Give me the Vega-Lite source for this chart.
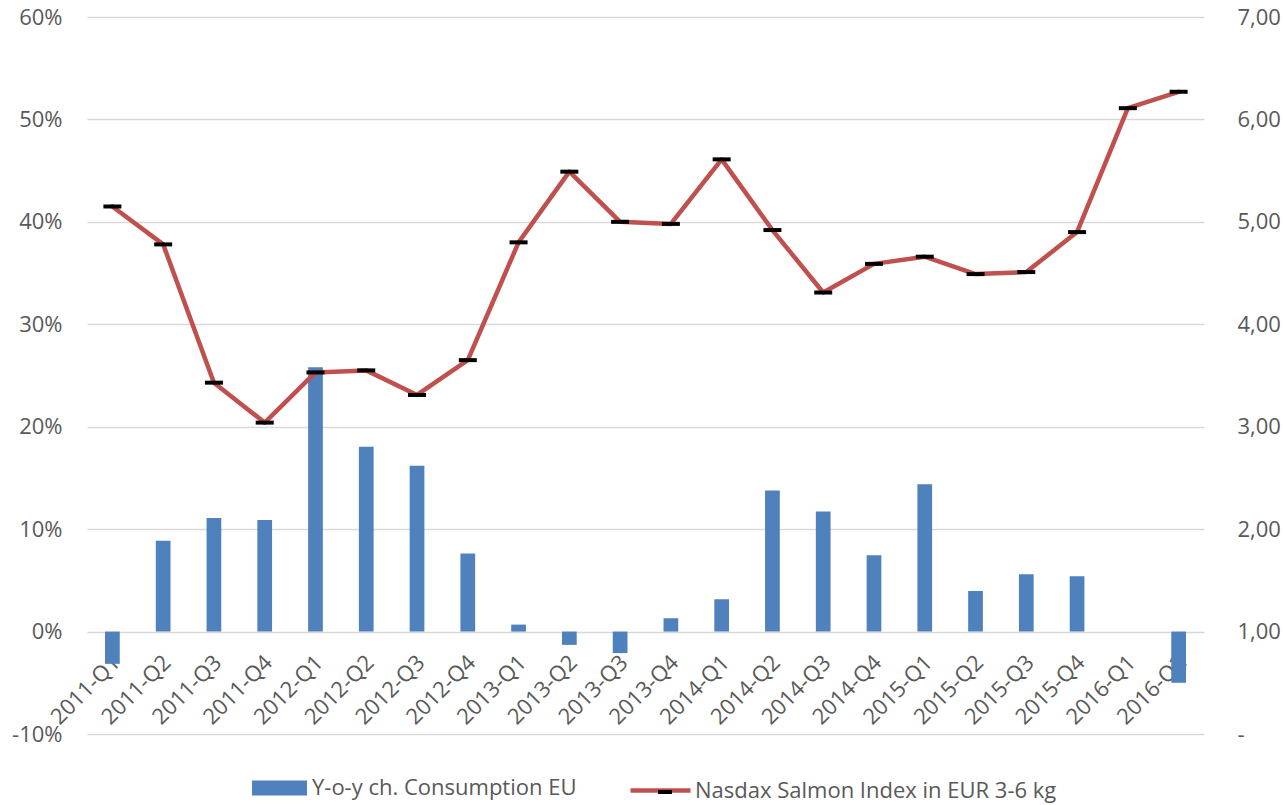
{
  "$schema": "https://vega.github.io/schema/vega-lite/v6.json",
  "width": 1117,
  "height": 717,
  "autosize": {"type": "none"},
  "padding": {"left": 87, "top": 17, "right": 81, "bottom": 71},
  "background": "white",
  "config": {
    "view": {"stroke": null},
    "font": "Open Sans",
    "axis": {"labelFont": "Open Sans", "labelFontSize": 22, "labelColor": "#595959", "title": null},
    "legend": {"labelFont": "Open Sans", "labelFontSize": 22, "labelColor": "#595959", "padding": 0, "title": null, "labelLimit": 0}
  },
  "data": {
    "values": [
      {"q": "2011-Q1", "cons": -0.0315, "idx": 5.15},
      {"q": "2011-Q2", "cons": 0.0886, "idx": 4.78},
      {"q": "2011-Q3", "cons": 0.111, "idx": 3.43},
      {"q": "2011-Q4", "cons": 0.109, "idx": 3.04},
      {"q": "2012-Q1", "cons": 0.258, "idx": 3.53},
      {"q": "2012-Q2", "cons": 0.1805, "idx": 3.55},
      {"q": "2012-Q3", "cons": 0.162, "idx": 3.31},
      {"q": "2012-Q4", "cons": 0.0763, "idx": 3.65},
      {"q": "2013-Q1", "cons": 0.0068, "idx": 4.80},
      {"q": "2013-Q2", "cons": -0.013, "idx": 5.49},
      {"q": "2013-Q3", "cons": -0.021, "idx": 5.00},
      {"q": "2013-Q4", "cons": 0.013, "idx": 4.98},
      {"q": "2014-Q1", "cons": 0.0315, "idx": 5.61},
      {"q": "2014-Q2", "cons": 0.1377, "idx": 4.92},
      {"q": "2014-Q3", "cons": 0.1172, "idx": 4.31},
      {"q": "2014-Q4", "cons": 0.0744, "idx": 4.59},
      {"q": "2015-Q1", "cons": 0.1438, "idx": 4.66},
      {"q": "2015-Q2", "cons": 0.0396, "idx": 4.49},
      {"q": "2015-Q3", "cons": 0.0559, "idx": 4.51},
      {"q": "2015-Q4", "cons": 0.0539, "idx": 4.90},
      {"q": "2016-Q1", "cons": 0, "idx": 6.11},
      {"q": "2016-Q2", "cons": -0.050, "idx": 6.27}
    ]
  },
  "layer": [
    {
      "mark": {"type": "bar", "width": {"band": 0.29}},
      "encoding": {
        "x": {
          "field": "q", "type": "ordinal", "sort": null,
          "scale": {"paddingInner": 0, "paddingOuter": 0},
          "axis": {"orient": "bottom", "offset": -102.4, "labelAngle": -45, "domain": false, "ticks": false, "labelPadding": 20, "labelOffset": -3}
        },
        "y": {
          "field": "cons", "type": "quantitative",
          "scale": {"domain": [-0.1, 0.6], "nice": false, "zero": false},
          "axis": {
            "orient": "left", "values": [-0.1, 0, 0.1, 0.2, 0.3, 0.4, 0.5, 0.6],
            "labelExpr": "round(datum.value*100) + '%'",
            "domain": false, "ticks": false, "labelPadding": 25,
            "grid": true, "gridColor": "#d9d9d9", "gridWidth": 1.5
          }
        },
        "fill": {
          "datum": "Y-o-y ch. Consumption EU",
          "scale": {"range": ["#4F81BD"]},
          "legend": {"orient": "none", "legendX": 165, "legendY": 743.5, "symbolType": "M-1,-0.27H1V0.27H-1Z", "symbolSize": 3025, "symbolStrokeWidth": 0, "labelOffset": 5}
        }
      }
    },
    {
      "encoding": {
        "x": {"field": "q", "type": "ordinal", "sort": null},
        "y": {
          "field": "idx", "type": "quantitative",
          "scale": {"domain": [0, 7], "nice": false, "zero": false},
          "axis": {
            "orient": "right", "values": [0, 1, 2, 3, 4, 5, 6, 7],
            "labelExpr": "datum.value == 0 ? '-' : replace(format(datum.value, '.2f'), '.', ',')",
            "labelAlign": "left", "labelPadding": 33,
            "domain": false, "ticks": false, "grid": false
          }
        }
      },
      "layer": [
        {
          "mark": {"type": "line", "strokeWidth": 4.5, "strokeJoin": "round", "strokeCap": "round"},
          "encoding": {
            "stroke": {
              "datum": "Nasdax Salmon Index in EUR 3-6 kg",
              "scale": {"range": ["#C0504D"]},
              "legend": {"orient": "none", "legendX": 541, "legendY": 741, "symbolType": "stroke", "symbolSize": 3600, "symbolStrokeWidth": 4.5, "labelOffset": 2}
            }
          }
        },
        {
          "mark": {"type": "point", "filled": false, "strokeWidth": 4, "size": 324, "stroke": "black", "opacity": 1},
          "encoding": {
            "shape": {
              "datum": "m",
              "scale": {"range": ["M-1,0H1"]},
              "legend": {"orient": "none", "legendX": 567, "legendY": 764, "symbolSize": 196, "symbolStrokeColor": "black", "symbolStrokeWidth": 4, "symbolFillColor": "transparent", "labelExpr": "''"}
            }
          }
        }
      ]
    }
  ],
  "resolve": {"scale": {"y": "independent"}}
}
